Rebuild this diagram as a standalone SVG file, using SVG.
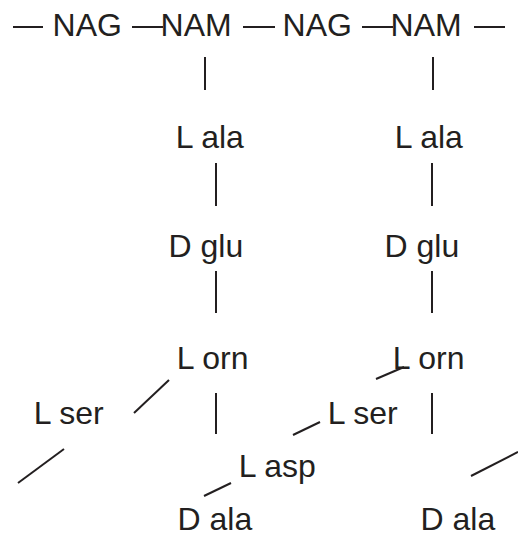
<svg xmlns="http://www.w3.org/2000/svg" width="518" height="536" viewBox="0 0 518 536">
  <style>
    .lbl { font-family: "Liberation Sans", Arial, Helvetica, sans-serif; font-size: 32px; fill: #231f20; }
    .bond { stroke: #231f20; stroke-width: 2; fill: none; }
  </style>
  <rect width="518" height="536" fill="#ffffff"/>

  <!-- glycan backbone and peptide links -->
  <g id="connectors">
    <line class="bond" x1="13" y1="27" x2="43" y2="27"/>
    <line class="bond" x1="132" y1="27" x2="163" y2="27"/>
    <line class="bond" x1="243" y1="27" x2="275" y2="27"/>
    <line class="bond" x1="362" y1="27" x2="393" y2="27"/>
    <line class="bond" x1="474" y1="27" x2="505" y2="27"/>

    <line class="bond" x1="205" y1="57" x2="205" y2="90"/>
    <line class="bond" x1="433" y1="57" x2="433" y2="90"/>
    <line class="bond" x1="216" y1="163" x2="216" y2="206"/>
    <line class="bond" x1="432" y1="163" x2="432" y2="206"/>
    <line class="bond" x1="216" y1="271" x2="216" y2="313"/>
    <line class="bond" x1="432" y1="271" x2="432" y2="313"/>
    <line class="bond" x1="216" y1="393" x2="216" y2="434"/>
    <line class="bond" x1="432" y1="393" x2="432" y2="434"/>

    <line class="bond" x1="169" y1="380" x2="134" y2="413"/>
    <line class="bond" x1="64" y1="449" x2="18" y2="483"/>
    <line class="bond" x1="231" y1="483" x2="204" y2="496"/>
    <line class="bond" x1="404" y1="367" x2="376" y2="379"/>
    <line class="bond" x1="320" y1="422" x2="293" y2="435"/>
    <line class="bond" x1="518" y1="452" x2="471" y2="476"/>
  </g>

  <g id="nag1"><text class="lbl" x="52.6" y="36">NAG</text></g>
  <g id="nam1"><text class="lbl" x="160.6" y="36">NAM</text></g>
  <g id="nag2"><text class="lbl" x="282.6" y="36">NAG</text></g>
  <g id="nam2"><text class="lbl" x="390.6" y="36">NAM</text></g>

  <g id="lala1"><text class="lbl" x="175.7" y="148">L ala</text></g>
  <g id="lala2"><text class="lbl" x="394.7" y="148">L ala</text></g>
  <g id="dglu1"><text class="lbl" x="168.5" y="257">D glu</text></g>
  <g id="dglu2"><text class="lbl" x="384.5" y="257">D glu</text></g>
  <g id="lorn1"><text class="lbl" x="176.7" y="369">L orn</text></g>
  <g id="lorn2"><text class="lbl" x="392.7" y="369">L orn</text></g>
  <g id="lser1"><text class="lbl" x="33.7" y="424">L ser</text></g>
  <g id="lser2"><text class="lbl" x="327.7" y="424">L ser</text></g>
  <g id="lasp"><text class="lbl" x="238.7" y="477">L asp</text></g>
  <g id="dala1"><text class="lbl" x="177.5" y="530">D ala</text></g>
  <g id="dala2"><text class="lbl" x="420.5" y="530">D ala</text></g>
</svg>
